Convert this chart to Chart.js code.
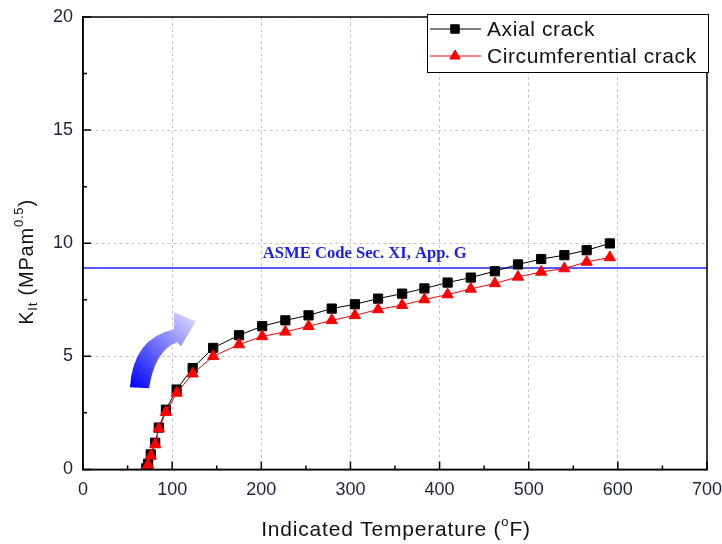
<!DOCTYPE html>
<html>
<head>
<meta charset="utf-8">
<script src="https://cdn.jsdelivr.net/npm/chart.js@4.4.0/dist/chart.umd.min.js"></script>
<style>
  html, body { margin: 0; padding: 0; background: #fff; }
  #wrap { width: 722px; height: 544px; }
</style>
</head>
<body>
<div id="wrap"><canvas id="kChart" width="722" height="544"></canvas></div>
<script>
// temperatures (F), same for both curves
const temps = [71, 73, 76, 81, 85, 93, 105, 123, 146, 175, 201, 227, 253, 279, 305, 331, 358, 383, 409, 435, 462, 488, 514, 540, 565, 591];
const axialK = [0.05, 0.25, 0.66, 1.18, 1.85, 2.64, 3.53, 4.48, 5.37, 5.93, 6.33, 6.59, 6.81, 7.11, 7.30, 7.55, 7.77, 8.00, 8.26, 8.48, 8.76, 9.06, 9.30, 9.47, 9.69, 9.99];
const circK = [0.0, 0.2, 0.6, 1.1, 1.8, 2.53, 3.38, 4.23, 5.0, 5.52, 5.88, 6.08, 6.33, 6.59, 6.81, 7.07, 7.26, 7.51, 7.73, 7.98, 8.22, 8.51, 8.73, 8.88, 9.17, 9.37];
const asmeTemps = [0, 700];
const asmeK = [8.9, 8.9];
const asmeLabel = "ASME Code Sec. XI, App. G";
const seriesNames = ["Axial crack", "Circumferential crack"];

const FONT = "'Liberation Sans', Arial, sans-serif";
const TICK_COLOR = "#1c2438";

function pts(xs, ys) {
  return xs.map((x, i) => ({ x: x, y: ys[i] }));
}

// Draw text made of parts (normal / sub / sup) starting at x
function drawParts(ctx, parts, x, y) {
  parts.forEach(p => {
    ctx.font = p.size + "px " + FONT;
    ctx.fillText(p.t, x, y + (p.dy || 0));
    x += ctx.measureText(p.t).width;
  });
}
function partsWidth(ctx, parts) {
  let w = 0;
  parts.forEach(p => {
    ctx.font = p.size + "px " + FONT;
    w += ctx.measureText(p.t).width;
  });
  return w;
}

const extras = {
  id: "extras",
  afterDraw(chart) {
    const ctx = chart.ctx;
    const a = chart.chartArea;
    const xs = chart.scales.x;
    const ys = chart.scales.y;
    ctx.save();

    // frame
    ctx.strokeStyle = "#000";
    ctx.lineWidth = 1.5;
    ctx.strokeRect(a.left, a.top, a.right - a.left, a.bottom - a.top);

    // inward ticks
    ctx.beginPath();
    for (let v = 0; v <= 700; v += 50) {
      const px = xs.getPixelForValue(v);
      const len = v % 100 === 0 ? 8 : 4;
      ctx.moveTo(px, a.bottom);
      ctx.lineTo(px, a.bottom - len);
    }
    for (let v = 0; v <= 20; v += 2.5) {
      const py = ys.getPixelForValue(v);
      const len = v % 5 === 0 ? 8 : 4;
      ctx.moveTo(a.left, py);
      ctx.lineTo(a.left + len, py);
    }
    ctx.stroke();

    // ASME label
    ctx.fillStyle = "#1a1aff";
    ctx.font = "bold 16.6px 'Liberation Serif', 'Times New Roman', serif";
    ctx.textAlign = "center";
    ctx.textBaseline = "alphabetic";
    ctx.fillText(asmeLabel, xs.getPixelForValue(316), ys.getPixelForValue(asmeK[0]) - 10);

    // curved arrow
    const ax = xs.getPixelForValue(52.7), ay = ys.getPixelForValue(3.63);
    const g = ctx.createLinearGradient(ax, ay, ax + 66, ay - 70);
    g.addColorStop(0, "#0000ff");
    g.addColorStop(1, "#dcdcff");
    ctx.fillStyle = g;
    ctx.beginPath();
    ctx.moveTo(ax, ay);
    ctx.quadraticCurveTo(ax + 3, ay - 49, ax + 44, ay - 58);
    ctx.lineTo(ax + 44, ay - 75);
    ctx.lineTo(ax + 66, ay - 66);
    ctx.lineTo(ax + 51, ay - 41);
    ctx.lineTo(ax + 47, ay - 45);
    ctx.quadraticCurveTo(ax + 25, ay - 37, ax + 19, ay + 1);
    ctx.closePath();
    ctx.fill();

    // axis titles
    ctx.fillStyle = "#111";
    ctx.textAlign = "left";
    ctx.textBaseline = "alphabetic";
    ctx.letterSpacing = "0.8px";
    const xt = [
      { t: "Indicated Temperature (", size: 21 },
      { t: "o", size: 13, dy: -10 },
      { t: "F)", size: 21 }
    ];
    const xw = partsWidth(ctx, xt);
    drawParts(ctx, xt, 396 - xw / 2, 536);

    const yt = [
      { t: "K", size: 20 },
      { t: "It", size: 13, dy: 4 },
      { t: " (MPam", size: 20 },
      { t: "0.5", size: 13, dy: -10 },
      { t: ")", size: 20 }
    ];
    const yw = partsWidth(ctx, yt);
    ctx.save();
    ctx.translate(33, 262);
    ctx.rotate(-Math.PI / 2);
    drawParts(ctx, yt, -yw / 2, 0);
    ctx.restore();

    // legend
    const lx = 427, ly = 14, lw = 281, lh = 58;
    ctx.fillStyle = "#fff";
    ctx.fillRect(lx, ly, lw, lh);
    ctx.strokeStyle = "#000";
    ctx.lineWidth = 1;
    ctx.strokeRect(lx + 0.5, ly + 0.5, lw, lh);
    const rows = [
      { name: seriesNames[0], color: "#000", y: 29, style: "rect" },
      { name: seriesNames[1], color: "#ff0000", y: 56, style: "triangle" }
    ];
    ctx.letterSpacing = "0.6px";
    rows.forEach(r => {
      ctx.strokeStyle = r.color;
      ctx.lineWidth = 1;
      ctx.beginPath();
      ctx.moveTo(430, r.y);
      ctx.lineTo(481, r.y);
      ctx.stroke();
      Chart.helpers.drawPoint(ctx, {
        pointStyle: r.style, radius: 6, rotation: 0, borderWidth: 1
      }, 455, r.y);
      ctx.fillStyle = r.color;
      ctx.fill();
      ctx.fillStyle = "#111";
      ctx.font = "21px " + FONT;
      ctx.textBaseline = "middle";
      ctx.fillText(r.name, 487, r.y + 1);
    });

    ctx.restore();
  }
};

new Chart(document.getElementById("kChart"), {
  type: "line",
  data: {
    datasets: [
      {
        label: seriesNames[0],
        data: pts(temps, axialK),
        borderColor: "#000",
        backgroundColor: "#000",
        borderWidth: 1,
        pointStyle: "rect",
        pointRadius: 6.5,
        pointBorderWidth: 1,
        tension: 0,
        order: 2
      },
      {
        label: seriesNames[1],
        data: pts(temps, circK),
        borderColor: "#ff0000",
        backgroundColor: "#ff0000",
        borderWidth: 1,
        pointStyle: "triangle",
        pointRadius: 6.5,
        pointBorderWidth: 1,
        tension: 0,
        order: 1
      },
      {
        label: asmeLabel,
        data: pts(asmeTemps, asmeK),
        borderColor: "#2222ff",
        borderWidth: 1.5,
        pointRadius: 0,
        order: 3
      }
    ]
  },
  options: {
    responsive: false,
    animation: false,
    layout: { padding: { left: 43, right: 15, top: 17, bottom: 33 } },
    plugins: { legend: { display: false }, tooltip: { enabled: false } },
    scales: {
      x: {
        type: "linear",
        min: 0,
        max: 700,
        ticks: { stepSize: 100, color: TICK_COLOR, font: { family: FONT, size: 18 }, padding: 10, maxRotation: 0 },
        grid: { color: "#c4c4c4", drawTicks: false, lineWidth: 1 },
        border: { color: "#000", width: 1.5, dash: [3, 3] },
        afterFit(scale) { scale.paddingLeft = 0; scale.paddingRight = 0; }
      },
      y: {
        min: 0,
        max: 20,
        ticks: { stepSize: 5, color: TICK_COLOR, font: { family: FONT, size: 18 }, padding: 10 },
        grid: { color: "#c4c4c4", drawTicks: false, lineWidth: 1 },
        border: { color: "#000", width: 1.5, dash: [3, 3] },
        afterFit(scale) { scale.paddingTop = 0; scale.paddingBottom = 0; }
      }
    }
  },
  plugins: [extras]
});
</script>
</body>
</html>
